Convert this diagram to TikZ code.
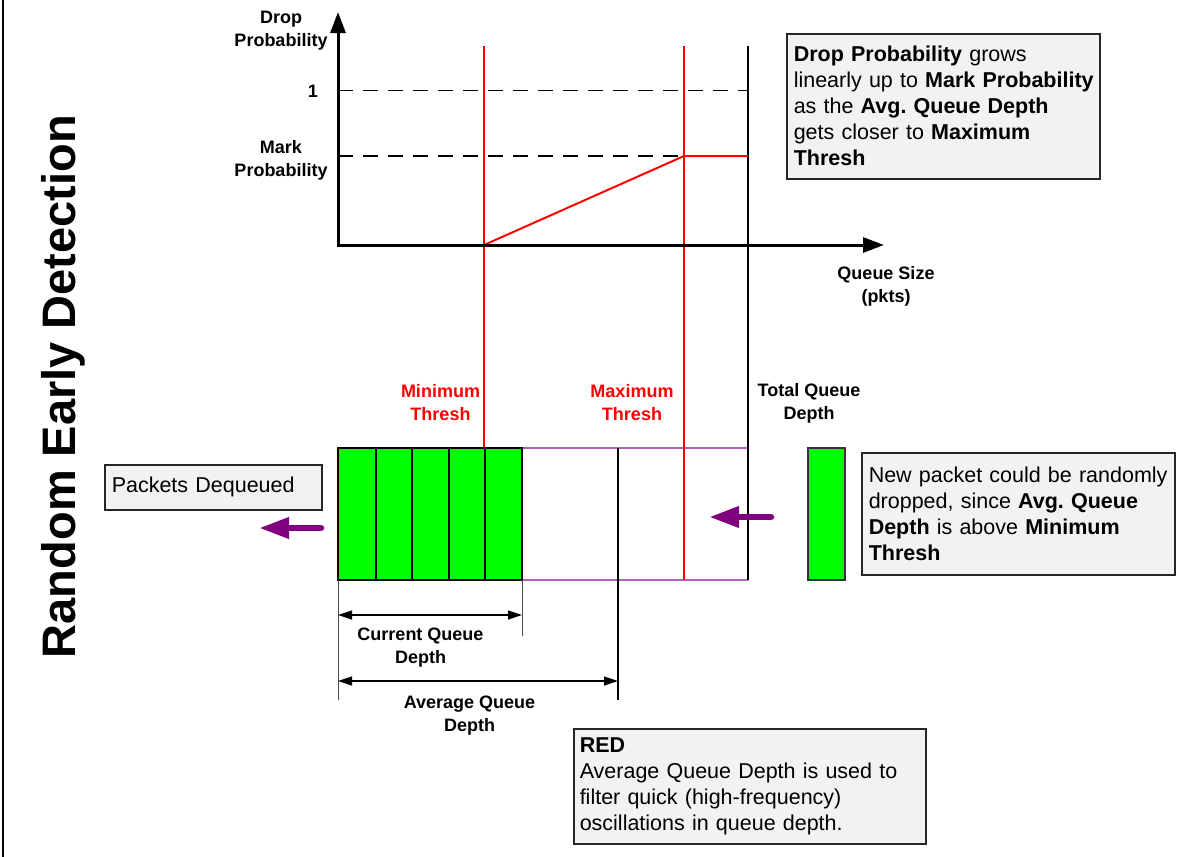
\documentclass[tikz,border=0pt]{standalone}
\usepackage{fontspec}
\setmainfont{Liberation Sans}
\usetikzlibrary{arrows.meta}
\definecolor{notefill}{HTML}{F2F2F2}
\definecolor{pktgreen}{HTML}{00FF00}
\definecolor{flowpurple}{HTML}{800080}
\definecolor{queueedge}{HTML}{B060B8}
\definecolor{threshred}{HTML}{FF0000}
% one unbreakable line of note text
\newcommand{\noteline}[1]{\mbox{#1}}
\frenchspacing

\begin{document}
\begin{tikzpicture}[x=1pt,y=-1pt,
  ruleaxis/.style={line width=3pt,miter limit=10,
    {Triangle[length=21pt,width=15pt]}-{Triangle[length=21pt,width=15pt]}},
  guide/.style={line width=1.5pt,dash pattern=on 15pt off 10pt},
  redline/.style={threshred,line width=2pt},
  blackline/.style={black,line width=2pt},
  dimline/.style={line width=1.2pt,
    {Triangle[length=14pt,width=9pt]}-{Triangle[length=14pt,width=9pt]}},
  extline/.style={line width=1pt,black!70},
  txtlbl/.style={font=\fontsize{18}{23}\selectfont\bfseries,align=center,inner sep=0pt},
  notebox/.style={draw=black!85,fill=notefill,line width=1.5pt,anchor=north west,
    align=left,inner ysep=0pt,inner xsep=7pt,font=\fontsize{21.5}{26}\selectfont},
  pkt/.style={draw=black,fill=pktgreen,line width=1.2pt},
  flowarrow/.style={flowpurple,line width=6.5pt,line cap=round,
    -{Triangle[length=30pt,width=20pt]}}
]
\useasboundingbox (0,0) rectangle (1187,857);

% frame edge on the left
\draw[line width=2.5pt] (3,0) -- (3,857);

% vertical title
\node[rotate=90,anchor=base,inner sep=0pt,font=\fontsize{47}{50}\selectfont\bfseries]
  (title) at (75,386.5) {Random Early Detection};

% ---------- probability graph ----------
\coordinate (O) at (338,245);
\coordinate (ytip) at (338,12);
\coordinate (xtip) at (884,245);

\coordinate (oneL) at (338,90.5);
\coordinate (oneR) at (748,90.5);
\coordinate (markL) at (338,156);
\coordinate (markR) at (684,156);

\draw[guide] (oneL) -- (oneR);
\draw[guide] (markL) -- (markR);

% threshold lines
\coordinate (minTop) at (484,46);
\coordinate (minQ) at (484,448);
\coordinate (maxTop) at (684,46);
\coordinate (maxQ) at (684,580);
\coordinate (totTop) at (748,46);
\coordinate (totQ) at (748,580);

% queue outline
\coordinate (qTL) at (522,448);
\coordinate (qTR) at (748,448);
\coordinate (qBL) at (522,580);
\coordinate (qBR) at (748,580);
\draw[queueedge,line width=2pt] (qTL) -- (qTR);
\draw[queueedge,line width=2pt] (qBL) -- (qBR);

\draw[redline] (minTop) -- (minQ);
\draw[redline] (maxTop) -- (maxQ);
\draw[blackline] (totTop) -- (totQ);

% drop probability curve
\coordinate (rampStart) at (484,245);
\coordinate (rampEnd) at (684,156);
\coordinate (flatEnd) at (748,156);
\draw[redline] (rampStart) -- (rampEnd) -- (flatEnd);

% axes
\draw[ruleaxis] (ytip) -- (O) -- (xtip);

\node[txtlbl] (ylabel) at (281,30.5) {Drop\\Probability};
\node[txtlbl] (onelbl) at (313,91) {1};
\node[txtlbl] (marklbl) at (281,160) {Mark\\Probability};
\node[txtlbl] (xlabel) at (886,286) {Queue Size\\(pkts)};

\node[notebox,minimum width=313pt,minimum height=145pt,text width=299pt]
  (dropnote) at (786,33)
  {\noteline{\textbf{Drop Probability} grows}\\
   \noteline{linearly up to \textbf{Mark Probability}}\\
   \noteline{as the \textbf{Avg. Queue Depth}}\\
   \noteline{gets closer to \textbf{Maximum}}\\
   \noteline{\textbf{Thresh}}};

% ---------- queue ----------
\node[txtlbl,threshred] (minlbl) at (440.5,403) {Minimum\\Thresh};
\node[txtlbl,threshred] (maxlbl) at (632,403) {Maximum\\Thresh};
\node[txtlbl] (totlbl) at (809,403) {Total Queue\\Depth};

\foreach \a/\b in {338/376,376/412,412/449,449/485,485/522}
  \draw[pkt] (\a,448) rectangle (\b,580);

% average depth marker
\coordinate (avgTop) at (618,448);
\coordinate (avgBot) at (618,700);
\draw[blackline] (avgTop) -- (avgBot);

% extension lines for the dimensions
\coordinate (headBot) at (338,580);
\coordinate (headExt) at (338,700);
\coordinate (curBot) at (522,580);
\coordinate (curExt) at (522,636);
\draw[extline] (headBot) -- (headExt);
\draw[extline] (curBot) -- (curExt);

\coordinate (curA) at (338,615);
\coordinate (curB) at (522,615);
\coordinate (avgA) at (338,681);
\coordinate (avgB) at (618,681);
\draw[dimline] (curA) -- (curB);
\draw[dimline] (avgA) -- (avgB);

\node[txtlbl] (curlbl) at (420.5,647.5) {Current Queue\\Depth};
\node[txtlbl] (avglbl) at (469.5,716) {Average Queue\\Depth};

% dequeue side
\node[notebox,minimum width=217pt,minimum height=45pt,text width=203pt]
  (deqnote) at (104,464) {\noteline{Packets Dequeued}};
\coordinate (deqFrom) at (321,528);
\coordinate (deqTo) at (259,528);
\draw[flowarrow] (deqFrom) -- (deqTo);

% arriving packet
\draw[pkt,draw=black!80] (808,448) rectangle (845,580);
\coordinate (arrFrom) at (771,517);
\coordinate (arrTo) at (709,517);
\draw[flowarrow] (arrFrom) -- (arrTo);

\node[notebox,minimum width=313pt,minimum height=122pt,text width=299pt]
  (newnote) at (861,452)
  {\noteline{New packet could be randomly}\\
   \noteline{dropped, since \textbf{Avg. Queue}}\\
   \noteline{\textbf{Depth} is above \textbf{Minimum}}\\
   \noteline{\textbf{Thresh}}};

\node[notebox,minimum width=352pt,minimum height=115pt,text width=340pt,inner xsep=6pt]
  (rednote) at (573,728)
  {\noteline{\textbf{RED}}\\
   \noteline{Average Queue Depth is used to}\\
   \noteline{filter quick (high-frequency)}\\
   \noteline{oscillations in queue depth.}};

\end{tikzpicture}
\end{document}
